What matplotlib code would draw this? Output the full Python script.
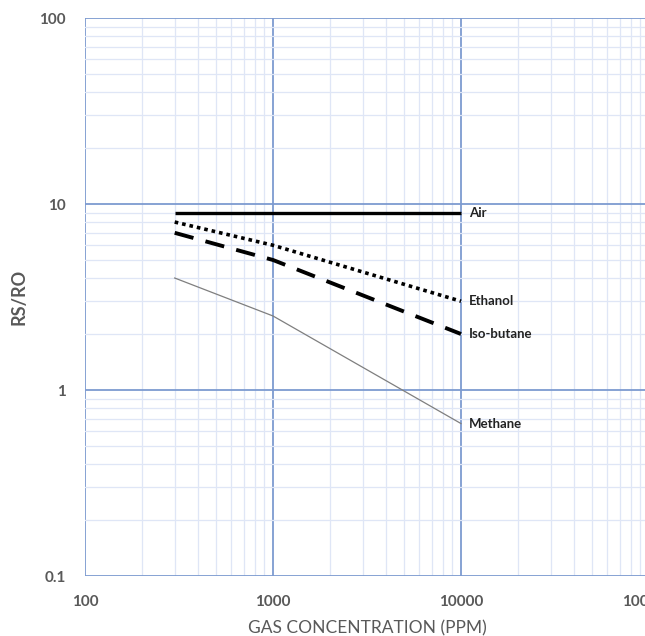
import matplotlib.pyplot as plt
from matplotlib.ticker import LogLocator, FixedLocator, FixedFormatter, NullFormatter

# gas concentration (ppm) and sensor ratio Rs/Ro
ppm = [300, 1000, 10000]
air = [9.0, 9.0, 9.0]
ethanol = [8.0, 6.0, 3.0]
iso_butane = [7.0, 5.0, 2.0]
methane = [4.0, 2.5, 0.66]

series_names = ["Air", "Ethanol", "Iso-butane", "Methane"]
x_ticks = [100, 1000, 10000, 100000]
x_tick_labels = ["100", "1000", "10000", "100000"]
y_ticks = [0.1, 1, 10, 100]
y_tick_labels = ["0.1", "1", "10", "100"]

plt.rcParams["font.family"] = ["Lato", "DejaVu Sans"]

fig = plt.figure(figsize=(6.45, 6.36), dpi=100)
# axes run past the right edge, like the cropped original
ax = fig.add_axes([85 / 645, 60 / 636, 564 / 645, 558 / 636])

ax.set_xscale("log")
ax.set_yscale("log")
ax.set_xlim(100, 100000)
ax.set_ylim(0.1, 100)

ax.plot(ppm, air, color="black", lw=2.4, solid_capstyle="butt")
ax.plot(ppm, ethanol, color="black", lw=2.6, linestyle=(0, (1, 1.1)))
ax.plot(ppm, iso_butane, color="black", lw=2.8, linestyle=(0, (5, 3.2)))
ax.plot(ppm, methane, color="#7f7f7f", lw=0.9)

ends = [air[-1], ethanol[-1], iso_butane[-1], methane[-1]]
for name, yv in zip(series_names, ends):
    ax.annotate(name, (ppm[-1], yv), xytext=(6, 0), textcoords="offset points",
                va="center", ha="left", fontsize=9.5, fontweight="bold", color="#222222")

ax.xaxis.set_major_locator(FixedLocator(x_ticks))
ax.xaxis.set_major_formatter(FixedFormatter(x_tick_labels))
ax.yaxis.set_major_locator(FixedLocator(y_ticks))
ax.yaxis.set_major_formatter(FixedFormatter(y_tick_labels))
ax.xaxis.set_minor_locator(LogLocator(base=10, subs=range(2, 10), numticks=20))
ax.yaxis.set_minor_locator(LogLocator(base=10, subs=range(2, 10), numticks=20))
ax.xaxis.set_minor_formatter(NullFormatter())
ax.yaxis.set_minor_formatter(NullFormatter())

ax.grid(which="major", color="#7d9bd0", lw=1.3)
ax.grid(which="minor", color="#dfe6f6", lw=0.9)
ax.set_axisbelow(True)
for s in ax.spines.values():
    s.set_visible(False)

ax.tick_params(which="both", length=0)
ax.tick_params(axis="x", pad=14, labelsize=11, labelcolor="#595959")
ax.tick_params(axis="y", pad=14, labelsize=11, labelcolor="#595959")
for lab in ax.get_xticklabels() + ax.get_yticklabels():
    lab.set_fontweight("bold")

ax.set_xlabel("GAS CONCENTRATION (PPM)", fontsize=12.5, color="#595959", labelpad=8)
ax.set_ylabel("RS/RO", fontsize=13, color="#595959", fontweight="bold", labelpad=8)

fig.savefig("out.png", dpi=100)
